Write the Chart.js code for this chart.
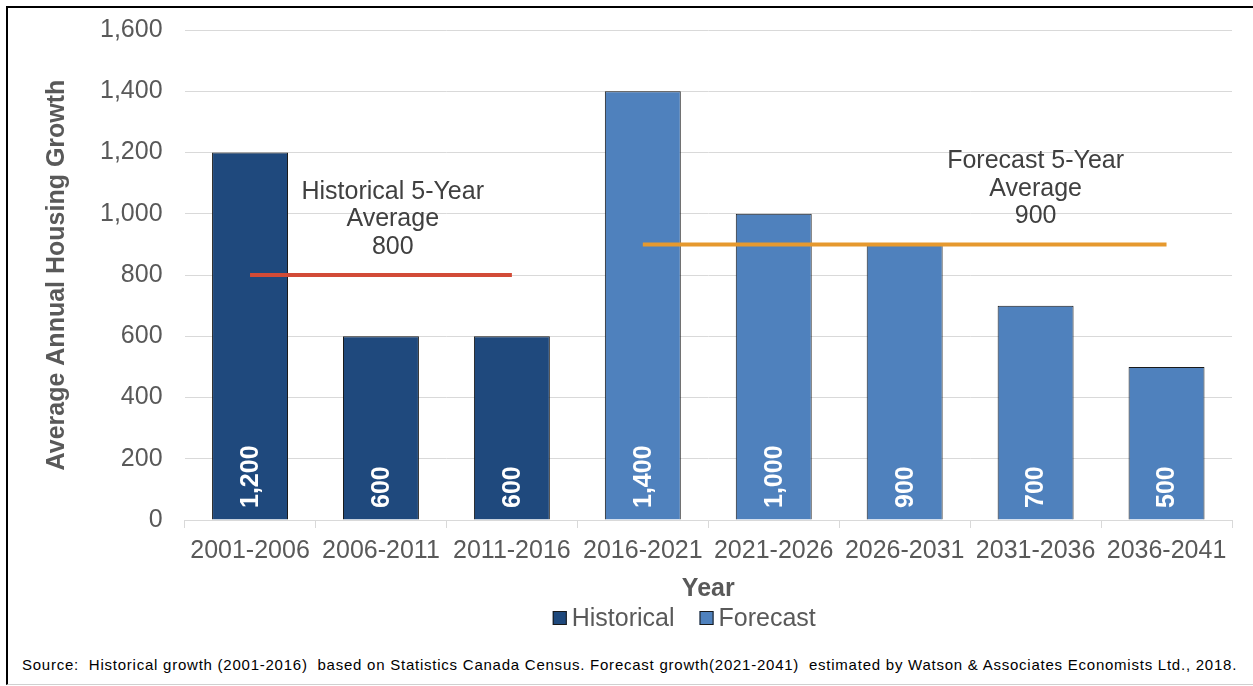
<!DOCTYPE html>
<html>
<head>
<meta charset="utf-8">
<script src="https://cdn.jsdelivr.net/npm/chart.js@4.4.1/dist/chart.umd.min.js"></script>
<style>
  html, body { margin: 0; padding: 0; background: #fff; }
  #frame {
    position: absolute; left: 6px; top: 6px; width: 1247px; height: 676px;
    border-top: 2px solid #000; border-left: 2px solid #000; border-bottom: 1px solid #d0d0d0;
  }
  #wrap { position: absolute; left: 0; top: -15px; width: 1245px; height: 659px; }
  #source {
    position: absolute; left: 14px; top: 648px;
    font-family: "Liberation Sans", Arial, sans-serif; font-size: 15px; color: #000;
    letter-spacing: 0.76px; white-space: pre;
  }
</style>
</head>
<body>
<div id="frame">
  <div id="wrap"><canvas id="housingChart"></canvas></div>
  <div id="source">Source:  Historical growth (2001-2016)  based on Statistics Canada Census. Forecast growth(2021-2041)  estimated by Watson &amp; Associates Economists Ltd., 2018.</div>
</div>
<script>
const periods = ["2001-2006", "2006-2011", "2011-2016", "2016-2021", "2021-2026", "2026-2031", "2031-2036", "2036-2041"];
const historical = [1200, 600, 600, null, null, null, null, null];
const forecast = [null, null, null, 1400, 1000, 900, 700, 500];
const historicalAvg = [800, 800, 800, null, null, null, null, null];
const forecastAvg = [null, null, null, 900, 900, 900, 900, 900];
const avgNotes = [
    { lines: ["Historical 5-Year", "Average", "800"], at: 1.09, value: 800 },
    { lines: ["Forecast 5-Year", "Average", "900"], at: 6, value: 900 }
];

const FONT = "'Liberation Sans', Arial, sans-serif";
const GREY = "#595959";

// white vertical labels sitting at the bottom of each bar
const barLabels = {
    id: "barLabels",
    afterDatasetsDraw(chart) {
        const ctx = chart.ctx;
        const y = chart.scales.y;
        ctx.save();
        ctx.font = "bold 25px " + FONT;
        ctx.fillStyle = "#ffffff";
        ctx.textAlign = "left";
        ctx.textBaseline = "middle";
        chart.data.datasets.forEach((ds, i) => {
            if (ds.type === "line") return;
            const meta = chart.getDatasetMeta(i);
            meta.data.forEach((bar, j) => {
                const v = ds.data[j];
                if (v == null) return;
                ctx.save();
                ctx.translate(bar.x, y.getPixelForValue(0) - 12);
                ctx.rotate(-Math.PI / 2);
                ctx.fillText(v.toLocaleString("en-US"), 0, 1);
                ctx.restore();
            });
        });
        ctx.restore();
    }
};

// text over the average lines
const avgText = {
    id: "avgText",
    afterDatasetsDraw(chart) {
        const ctx = chart.ctx;
        const { x, y } = chart.scales;
        ctx.save();
        ctx.font = "25px " + FONT;
        ctx.fillStyle = "#404040";
        ctx.textAlign = "center";
        ctx.textBaseline = "middle";
        avgNotes.forEach(n => {
            const cx = x.getPixelForValue(n.at);
            const base = y.getPixelForValue(n.value);
            n.lines.forEach((t, k) => {
                ctx.fillText(t, cx, base - 83 + k * 27.5);
            });
        });
        ctx.restore();
    }
};

// legend with a tight box-to-text gap
const legendBox = {
    id: "legendBox",
    afterDraw(chart) {
        const ctx = chart.ctx;
        const area = chart.chartArea;
        const items = chart.data.datasets.filter(d => d.type !== "line");
        ctx.save();
        ctx.font = "25px " + FONT;
        ctx.textBaseline = "middle";
        ctx.textAlign = "left";
        const box = 14, gapIn = 5, gapOut = 25;
        const widths = items.map(d => box + gapIn + ctx.measureText(d.label).width);
        const total = widths.reduce((a, b) => a + b, 0) + gapOut * (items.length - 1);
        let x = (area.left + area.right) / 2 - 24 - total / 2;
        const y = chart.scales.x.bottom + 14;
        items.forEach((d, i) => {
            ctx.fillStyle = d.backgroundColor;
            ctx.fillRect(x, y - box / 2, box, box);
            ctx.strokeStyle = "#1a1a1a";
            ctx.lineWidth = 1;
            ctx.strokeRect(x + 0.5, y - box / 2 + 0.5, box - 1, box - 1);
            ctx.fillStyle = GREY;
            ctx.fillText(d.label, x + box + gapIn, y + 1);
            x += widths[i] + gapOut;
        });
        ctx.restore();
    }
};

new Chart(document.getElementById("housingChart"), {
    type: "bar",
    data: {
        labels: periods,
        datasets: [{
            label: "Historical",
            data: historical,
            backgroundColor: "#1F497D",
            borderColor: "#1a1a1a",
            borderWidth: 1,
            order: 2
        }, {
            label: "Forecast",
            data: forecast,
            backgroundColor: "#4F81BD",
            borderColor: "#1a1a1a",
            borderWidth: 1,
            order: 2
        }, {
            type: "line",
            label: "Historical average",
            data: historicalAvg,
            borderColor: "#D24B37",
            borderWidth: 4,
            pointRadius: 0,
            order: 1
        }, {
            type: "line",
            label: "Forecast average",
            data: forecastAvg,
            borderColor: "#E6992E",
            borderWidth: 4,
            pointRadius: 0,
            order: 1
        }]
    },
    options: {
        responsive: true,
        maintainAspectRatio: false,
        animation: false,
        skipNull: true,
        categoryPercentage: 1,
        barPercentage: 0.58,
        layout: { padding: { left: 34, right: 21, top: 0, bottom: 48 } },
        plugins: {
            legend: { display: false },
            tooltip: { enabled: false }
        },
        scales: {
            x: {
                grid: {
                    drawOnChartArea: false,
                    color: "#d9d9d9",
                    tickLength: 8
                },
                border: { color: "#d9d9d9" },
                ticks: {
                    font: { family: FONT, size: 25 },
                    color: GREY,
                    padding: 8,
                    maxRotation: 0
                },
                title: {
                    display: true,
                    text: "Year",
                    font: { family: FONT, size: 25, weight: "bold" },
                    color: GREY,
                    padding: { top: 0, bottom: 0 }
                }
            },
            y: {
                min: 0,
                max: 1600,
                grid: { color: "#d9d9d9", drawTicks: false },
                border: { display: false },
                ticks: {
                    stepSize: 200,
                    font: { family: FONT, size: 25 },
                    color: GREY,
                    padding: 22,
                    callback: v => v.toLocaleString("en-US")
                },
                title: {
                    display: true,
                    text: "Average Annual Housing Growth",
                    font: { family: FONT, size: 25, weight: "bold" },
                    color: GREY,
                    padding: { top: 0, bottom: 6 }
                }
            }
        }
    },
    plugins: [barLabels, avgText, legendBox]
});
</script>
</body>
</html>
